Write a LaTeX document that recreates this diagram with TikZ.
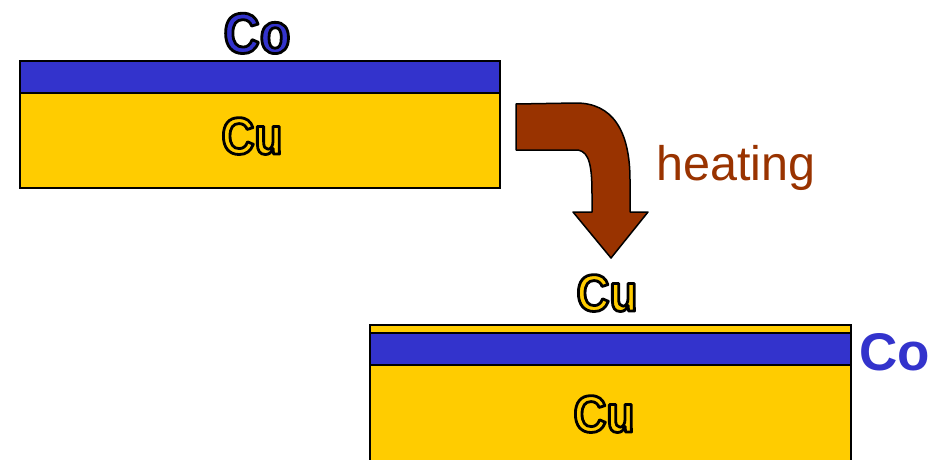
\documentclass[tikz,border=0pt]{standalone}
\usepackage{fontspec}
\setmainfont{Liberation Sans}
\newfontfamily\narrowsans[FakeStretch=0.88]{Liberation Sans}
\definecolor{coblue}{HTML}{3333CC}
\definecolor{cuyellow}{HTML}{FFCC00}
\definecolor{heatbrown}{HTML}{993300}
\newcommand{\outlined}[2]{%
  \textcolor{#1}{\special{pdf:literal direct 2 Tr 2.8 w 0 G 1 j}#2\special{pdf:literal direct 0 Tr}}}
\usetikzlibrary{positioning}
\tikzset{
  layer/.style={draw=black,line width=2pt,inner sep=0pt,outer sep=0pt,minimum width=480pt},
  oltext/.style={anchor=base,inner sep=0pt},
}

\begin{document}
\begin{tikzpicture}[x=1pt,y=-1pt]
        \clip (0,0) rectangle (931,460);
        \fill[white] (0,0) rectangle (931,460);

        \node[layer,fill=coblue,minimum height=32pt,anchor=north west] (topco) at (20,61) {};
        \node[layer,fill=cuyellow,minimum height=95pt,below=0pt of topco] (topcu) {};
        \node[oltext] (topcolabel) at (257,53) {\fontsize{57}{60}\narrowsans\bfseries\outlined{coblue}{Co}};
        \node[oltext] (topculabel) at (252,154) {\fontsize{52}{54}\narrowsans\bfseries\outlined{cuyellow}{Cu}};

        \draw[line width=1.5pt,fill=heatbrown,line join=round] (516,104) -- (576,103) .. controls (612,103) and (630,130) .. (630,180) -- (630,212) -- (648,212) -- (611,258) -- (573,212) -- (592,212) -- (592,195) .. controls (592,168) and (590,152) .. (578,150) -- (516,150) -- cycle;
        \node[anchor=base west,inner sep=0pt,text=heatbrown,font=\fontsize{48.5}{52}\selectfont] (heating) at (656,180) {heating};

        \node[layer,fill=cuyellow,minimum height=8pt,minimum width=481pt,anchor=north west] (botcutop) at (370,325) {};
        \node[layer,fill=coblue,minimum height=32pt,minimum width=481pt,below=0pt of botcutop] (botco) {};
        \node[layer,fill=cuyellow,minimum height=110pt,minimum width=481pt,below=0pt of botco] (botcu) {};
        \node[oltext] (botcutoplabel) at (607,311) {\fontsize{52}{54}\narrowsans\bfseries\outlined{cuyellow}{Cu}};
        \node[oltext] (botculabel) at (604,432) {\fontsize{52}{54}\narrowsans\bfseries\outlined{cuyellow}{Cu}};
        \node[anchor=base west,inner sep=0pt,text=coblue,font=\fontsize{53}{58}\selectfont\bfseries] (botcolabel) at (859,370) {Co};
    \end{tikzpicture}
\end{document}
